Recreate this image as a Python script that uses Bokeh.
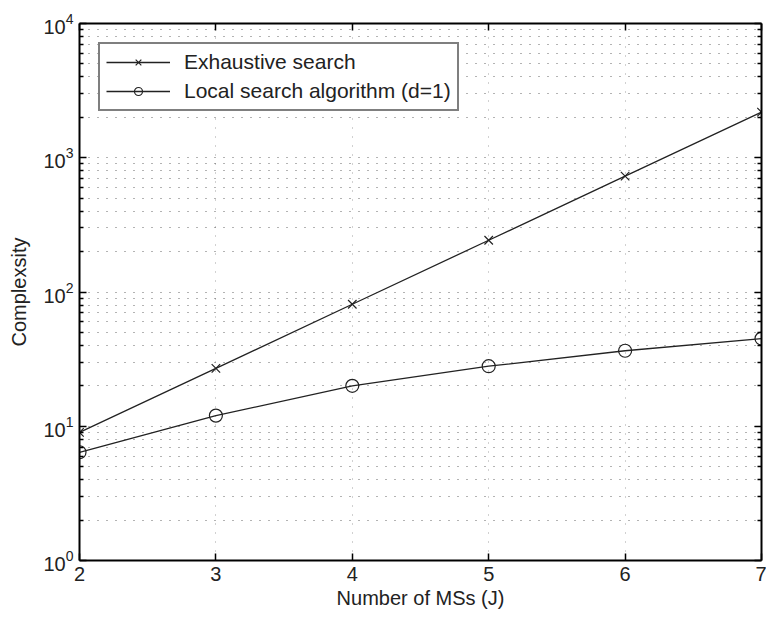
from bokeh.plotting import figure
from bokeh.models import (LogAxis, LinearAxis, FixedTicker, Legend, LegendItem,
                          Range1d, LogTickFormatter)
from bokeh.embed import file_html
from bokeh.resources import INLINE

# ---- data ----
num_ms = [2, 3, 4, 5, 6, 7]
exhaustive = [9, 27, 81, 243, 729, 2187]
local_search = [6.4, 12, 20, 28, 36.5, 45]
x_ticks = [2, 3, 4, 5, 6, 7]
y_ticks = [1, 10, 100, 1000, 10000]
series_names = ["Exhaustive search", "Local search algorithm (d=1)"]
x_label = "Number of MSs (J)"
y_label = "Complexsity"

FONT = "Liberation Sans"
LINE = "#222222"

y_minor = [m * d for d in y_ticks[:-1] for m in range(2, 10)]

p = figure(width=766, height=617, y_axis_type="log",
           x_range=Range1d(2, 7), y_range=Range1d(1, 10000),
           output_backend="svg", toolbar_location=None,
           min_border_left=79, min_border_right=5, min_border_top=23,
           min_border_bottom=57, x_axis_location=None, y_axis_location=None)
p.outline_line_color = None
p.background_fill_color = "white"
p.border_fill_color = "white"

xt = FixedTicker(ticks=x_ticks)
yt = FixedTicker(ticks=y_ticks, minor_ticks=y_minor)

def style_axis(ax, labels=True):
    ax.axis_line_color = "black"
    ax.axis_line_width = 2
    ax.major_tick_line_color = "black"
    ax.minor_tick_line_color = "black"
    ax.major_tick_line_width = 1.5
    ax.minor_tick_line_width = 1.5
    ax.major_tick_in = 7
    ax.major_tick_out = 0
    ax.minor_tick_in = 4
    ax.minor_tick_out = 0
    ax.major_label_text_font = FONT
    ax.major_label_text_font_size = "20px"
    ax.major_label_text_color = "#222222"
    ax.axis_label_text_font = FONT
    ax.axis_label_text_font_size = "20px"
    ax.axis_label_text_font_style = "normal"
    ax.axis_label_text_color = "#222222"
    if not labels:
        ax.major_label_text_font_size = "0px"
        ax.major_label_text_alpha = 0
        ax.major_label_standoff = 0

bottom = LinearAxis(ticker=xt, axis_label=x_label)
style_axis(bottom)
bottom.minor_tick_in = 0
bottom.major_label_standoff = 6
bottom.axis_label_standoff = 3
p.add_layout(bottom, "below")

top = LinearAxis(ticker=xt)
style_axis(top, labels=False)
top.minor_tick_in = 0
p.add_layout(top, "above")

left = LogAxis(ticker=yt, axis_label=y_label, formatter=LogTickFormatter())
style_axis(left)
left.major_label_standoff = 6
left.axis_label_standoff = 10
p.add_layout(left, "left")

right = LogAxis(ticker=yt)
style_axis(right, labels=False)
p.add_layout(right, "right")

p.xgrid.ticker = xt
p.ygrid.ticker = yt
for g in (p.xgrid, p.ygrid):
    g.grid_line_color = "#333333"
    g.grid_line_alpha = 0.75
    g.grid_line_dash = "1 8"
    g.grid_line_width = 1
p.xgrid.grid_line_alpha = 0.45
p.ygrid.minor_grid_line_color = "#333333"
p.ygrid.minor_grid_line_alpha = 0.75
p.ygrid.minor_grid_line_dash = "1 8"
p.ygrid.minor_grid_line_width = 1

l1 = p.line(num_ms, exhaustive, line_color=LINE, line_width=1.3)
m1 = p.scatter(num_ms, exhaustive, marker="x", size=12, line_color=LINE,
               line_width=1.2)
l2 = p.line(num_ms, local_search, line_color=LINE, line_width=1.3)
m2 = p.scatter(num_ms, local_search, marker="circle", size=13,
               line_color=LINE, fill_color=None, line_width=1.2)

legend = Legend(items=[LegendItem(label=series_names[0], renderers=[l1, m1]),
                       LegendItem(label=series_names[1], renderers=[l2, m2])],
                location="top_left")
legend.margin = 19
legend.padding = 6
legend.spacing = 5
legend.glyph_width = 64
legend.glyph_height = 20
legend.label_height = 20
legend.label_standoff = 14
legend.label_text_font = FONT
legend.label_text_font_size = "21px"
legend.label_text_color = "#222222"
legend.border_line_color = "black"
legend.border_line_width = 2
legend.background_fill_color = "white"
legend.background_fill_alpha = 1
p.add_layout(legend, "center")

open("out.html", "w").write(file_html(p, INLINE))
